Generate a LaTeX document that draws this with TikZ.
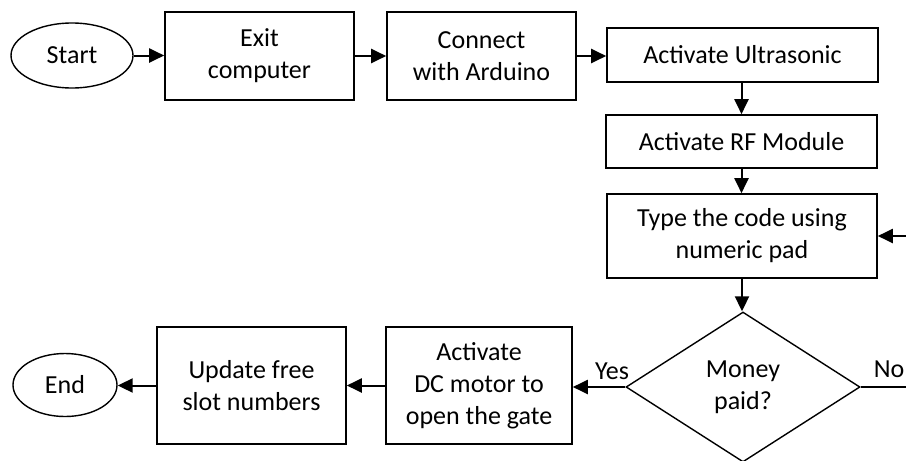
\documentclass[tikz,border=0pt]{standalone}
\usepackage{fontspec}
\setmainfont{Carlito}
\usetikzlibrary{shapes.geometric,arrows.meta}
\begin{document}
\begin{tikzpicture}[x=1pt,y=-1pt,
  font=\fontsize{26}{32}\selectfont,
  proc/.style={draw, line width=1.6pt, align=center, inner sep=0pt},
  term/.style={draw, ellipse, line width=1.4pt, inner sep=0pt},
  decision/.style={draw, diamond, line width=1.4pt, align=center, inner sep=0pt},
  flow/.style={line width=2pt, -{Triangle[length=15pt,width=14pt]}},
  plain/.style={line width=1.4pt}]
  \useasboundingbox (0,0) rectangle (906,461);
  \clip (0,0) rectangle (906,461);

  % top row
  \node[term, minimum width=122pt, minimum height=65pt] (start) at (72,55.5) {Start};
  \node[proc, minimum width=189pt, minimum height=88pt] (exit) at (259.5,56) {Exit\\computer};
  \node[proc, minimum width=189pt, minimum height=88pt] (conn) at (481.5,56) {Connect\\with Arduino};
  \node[proc, minimum width=271pt, minimum height=54pt] (ultra) at (742.5,55) {Activate Ultrasonic};

  % right column
  \node[proc, minimum width=271pt, minimum height=53pt] (rf) at (741.5,141.5) {Activate RF Module};
  \node[proc, minimum width=270pt, minimum height=84pt] (code) at (742,236) {Type the code using\\numeric pad};
  \node[decision, minimum width=234pt, minimum height=150pt] (money) at (743,387) {Money\\paid?};

  % bottom row
  \node[proc, minimum width=186pt, minimum height=117pt] (dc) at (479,385.5) {Activate\\DC motor to\\open the gate};
  \node[proc, minimum width=189pt, minimum height=117pt] (upd) at (251.5,385.5) {Update free\\slot numbers};
  \node[term, minimum width=104pt, minimum height=63pt] (endn) at (65,385) {End};

  % return path runs just beyond the right edge
  \coordinate (fb) at (930,0);

  % connectors
  \draw[flow] (start.east) -- (start.east -| exit.west);
  \draw[flow] (exit.east) -- (exit.east -| conn.west);
  \draw[flow] (conn.east) -- (conn.east -| ultra.west);
  \draw[flow] (ultra.south -| rf.north) -- (rf.north);
  \draw[flow] (rf.south) -- (rf.south |- code.north);
  \draw[flow] (code.south) -- (code.south |- money.north);
  \draw[flow] (money.west) -- (money.west -| dc.east);
  \draw[flow] (dc.west) -- (dc.west -| upd.east);
  \draw[flow] (upd.west) -- (upd.west -| endn.east);
  \draw[plain] (money.east) -- (money.east -| fb) -- (code.east -| fb);
  \draw[flow] (code.east -| fb) -- (code.east);

  % branch labels
  \node (yes) at (612,371) {Yes};
  \node (no) at (889,369) {No};
\end{tikzpicture}
\end{document}
